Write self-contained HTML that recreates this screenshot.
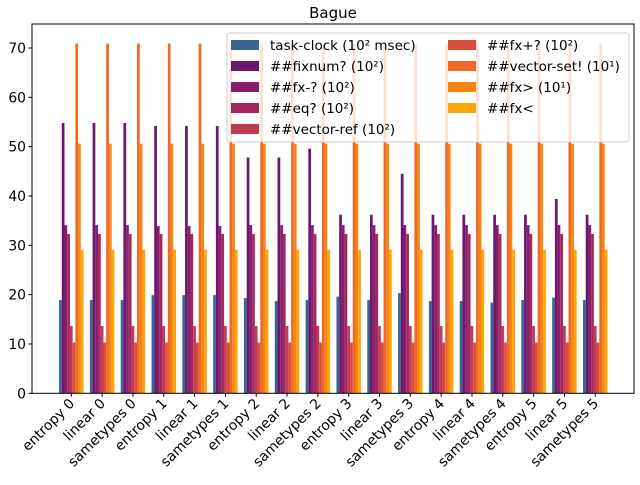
<!DOCTYPE html>
<html><head><meta charset="utf-8"><style>
body{margin:0;background:#fff}
svg{font-family:"DejaVu Sans","Liberation Sans",sans-serif}
</style></head><body>
<svg id="chart" width="640" height="480" viewBox="0 0 640 480" xmlns="http://www.w3.org/2000/svg">
<text x="333" y="18" font-size="15" text-anchor="middle">Bague</text>
<g id="bars"></g>
<g id="axes"></g>
<g id="legend"></g>
</svg>
<script>
const categories=["entropy 0","linear 0","sametypes 0","entropy 1","linear 1","sametypes 1","entropy 2","linear 2","sametypes 2","entropy 3","linear 3","sametypes 3","entropy 4","linear 4","sametypes 4","entropy 5","linear 5","sametypes 5"];
const seriesNames=["task-clock (10² msec)","##fixnum? (10²)","##fx-? (10²)","##eq? (10²)","##vector-ref (10²)","##fx+? (10²)","##vector-set! (10¹)","##fx> (10¹)","##fx<"];
const taskClock=[18.9,18.9,18.9,19.9,19.9,19.9,19.3,18.7,18.9,19.6,18.9,20.3,18.7,18.7,18.4,18.9,19.4,18.9];
const fixnum=[54.8,54.8,54.8,54.2,54.2,54.2,47.8,47.8,49.6,36.2,36.2,44.5,36.2,36.2,36.2,36.2,39.4,36.2];
const fxMinus=[34.1,34.1,34.1,33.9,33.9,33.9,34.1,34.1,34.1,34.1,34.1,34.1,34.1,34.1,34.1,34.1,34.1,34.1];
const eq=[32.3,32.3,32.3,32.3,32.3,32.3,32.3,32.3,32.3,32.3,32.3,32.3,32.3,32.3,32.3,32.3,32.3,32.3];
const vectorRef=[13.65,13.65,13.65,13.65,13.65,13.65,13.65,13.65,13.65,13.65,13.65,13.65,13.65,13.65,13.65,13.65,13.65,13.65];
const fxPlus=[10.3,10.3,10.3,10.3,10.3,10.3,10.3,10.3,10.3,10.3,10.3,10.3,10.3,10.3,10.3,10.3,10.3,10.3];
const vectorSet=[70.9,70.9,70.9,70.9,70.9,70.9,70.9,70.9,70.9,70.9,70.9,70.9,70.9,70.9,70.9,70.9,70.9,70.9];
const fxGt=[50.6,50.6,50.6,50.6,50.6,50.6,50.6,50.6,50.6,50.6,50.6,50.6,50.6,50.6,50.6,50.6,50.6,50.6];
const fxLt=[29.1,29.1,29.1,29.1,29.1,29.1,29.1,29.1,29.1,29.1,29.1,29.1,29.1,29.1,29.1,29.1,29.1,29.1];
const yTicks=[0,10,20,30,40,50,60,70];

const series=[taskClock,fixnum,fxMinus,eq,vectorRef,fxPlus,vectorSet,fxGt,fxLt];
const colors=["#3a6590","#6a176e","#881f6c","#a3285f","#c13b53","#d94d3d","#ed6925","#f8850f","#fca50a"];
const NS="http://www.w3.org/2000/svg";
const L=32,R=634,T=24,B=393.3;
const yScale=v=>B-v*(B-48)/70;
const x0=71.3,step=30.82;
const xScale=i=>x0+i*step;
const slot=2.72;
function mk(tag,attrs,parent){const e=document.createElementNS(NS,tag);for(const k in attrs)e.setAttribute(k,attrs[k]);parent.appendChild(e);return e;}
const bars=document.getElementById('bars');
categories.forEach((c,i)=>{
  series.forEach((s,j)=>{
    const x=xScale(i)-slot*4.5+slot*j;
    const r=mk('rect',{x:x,y:yScale(s[i]),width:slot,height:B-yScale(s[i]),fill:colors[j]},bars);
    
    
  });
});
const ax=document.getElementById('axes');
const frame=mk('rect',{x:L,y:T,width:R-L,height:B-T,fill:'none',stroke:'#000','stroke-width':1},ax);


yTicks.forEach(v=>{
  const y=yScale(v);
  mk('line',{x1:L-3.5,x2:L,y1:y,y2:y,stroke:'#000'},ax);
  const t=mk('text',{x:L-6,y:y+5,'font-size':13.9,'text-anchor':'end'},ax);
  t.textContent=v;
  
  
});
categories.forEach((c,i)=>{
  const x=xScale(i);
  mk('line',{x1:x,x2:x,y1:B,y2:B+3.5,stroke:'#000'},ax);
  const t=mk('text',{x:x+4,y:B+11,'font-size':13.9,'text-anchor':'end',transform:`rotate(-45 ${x+4} ${B+11})`},ax);
  t.textContent=c;
  
  
});
const lg=document.getElementById('legend');
const box=mk('rect',{x:227,y:33,width:402,height:109,rx:3,fill:'rgba(255,255,255,0.8)',stroke:'#ccc'},lg);


seriesNames.forEach((n,j)=>{
  const col=j<5?0:1,row=j<5?j:j-5;
  const px=col?448:231,tx=col?487:270,cy=45+row*21;
  mk('rect',{x:px,y:cy-5,width:28,height:10,fill:colors[j]},lg);
  const t=mk('text',{x:tx,y:cy+5,'font-size':13.5},lg);
  t.textContent=n;
  
  
});
</script>
</body></html>
